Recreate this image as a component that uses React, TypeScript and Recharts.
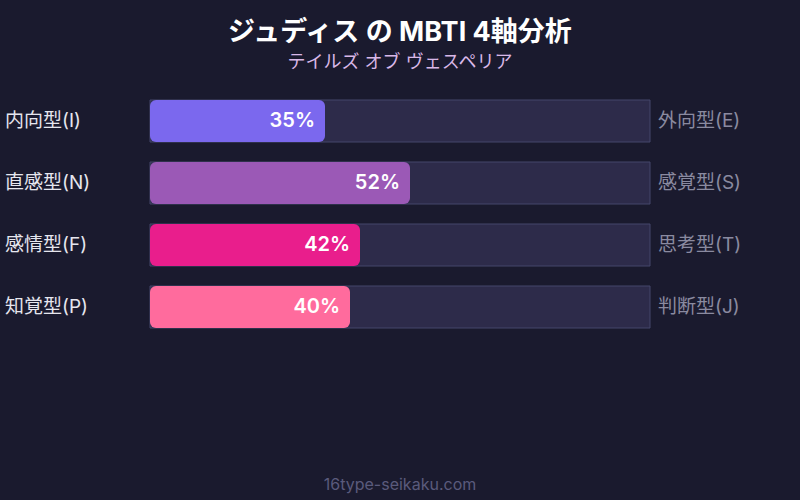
import { BarChart, Bar, XAxis, YAxis, Cell, LabelList } from "recharts"

document.body.style.margin = "0"

const leftLabels = ["内向型(I)", "直感型(N)", "感情型(F)", "知覚型(P)"]
const rightLabels = ["外向型(E)", "感覚型(S)", "思考型(T)", "判断型(J)"]
const percents = [35, 52, 42, 40]
const barColors = ["#7b68ee", "#9b59b6", "#e91e8c", "#ff6b9d"]

const data = leftLabels.map((label, i) => ({
  label,
  right: rightLabels[i],
  value: percents[i],
}))

const FONT = "Inter, 'Noto Sans CJK JP', sans-serif"

interface LabelProps {
  x?: number
  y?: number
  width?: number
  height?: number
  value?: number
  index?: number
}

// side labels drawn from each row's position
function SideLabels({ y = 0, height = 0, index = 0 }: LabelProps) {
  const cy = y + height / 2
  return (
    <g>
      <text x={5} y={cy} dy={6} textAnchor="start" fill="#e6e6ee" fontSize={19} fontFamily={FONT}>
        {leftLabels[index]}
      </text>
      <text x={658} y={cy} dy={6} textAnchor="start" fill="#8a8aa0" fontSize={19} fontFamily={FONT}>
        {rightLabels[index]}
      </text>
    </g>
  )
}

function PctLabel({ x = 0, y = 0, width = 0, height = 0, value }: LabelProps) {
  return (
    <text
      x={x + width - 10}
      y={y + height / 2}
      dy={6}
      textAnchor="end"
      fill="#ffffff"
      fontSize={20}
      fontWeight={600}
      fontFamily={FONT}
    >
      {`${value}%`}
    </text>
  )
}

export default function App() {
  return (
    <div
      style={{
        position: "relative",
        width: 800,
        height: 500,
        background: "#1a1a2e",
        fontFamily: FONT,
        overflow: "hidden",
      }}
    >
      <div
        style={{
          position: "absolute",
          top: 14,
          width: 800,
          textAlign: "center",
          color: "#ffffff",
          fontSize: 27,
          fontWeight: 700,
          lineHeight: "36px",
        }}
      >
        ジュディス の MBTI 4軸分析
      </div>
      <div
        style={{
          position: "absolute",
          top: 51,
          width: 800,
          textAlign: "center",
          color: "#d9b8e8",
          fontSize: 18,
          lineHeight: "22px",
        }}
      >
        テイルズ オブ ヴェスペリア
      </div>
      <BarChart
        width={800}
        height={500}
        data={data}
        layout="vertical"
        margin={{ top: 90, right: 150, bottom: 162, left: 150 }}
        barCategoryGap={10}
      >
        <XAxis type="number" domain={[0, 100]} hide />
        <YAxis type="category" dataKey="label" hide />
        <Bar
          dataKey="value"
          barSize={42}
          radius={6}
          isAnimationActive={false}
          background={{ fill: "#2d2b4a", stroke: "#45466a", strokeWidth: 1 }}
        >
          {data.map((d, i) => (
            <Cell key={d.label} fill={barColors[i]} />
          ))}
          <LabelList dataKey="value" content={<PctLabel />} />
          <LabelList dataKey="label" content={<SideLabels />} />
        </Bar>
      </BarChart>
      <div
        style={{
          position: "absolute",
          top: 474,
          width: 800,
          textAlign: "center",
          color: "#5a5a7c",
          fontSize: 16,
          lineHeight: "20px",
        }}
      >
        16type-seikaku.com
      </div>
    </div>
  )
}
